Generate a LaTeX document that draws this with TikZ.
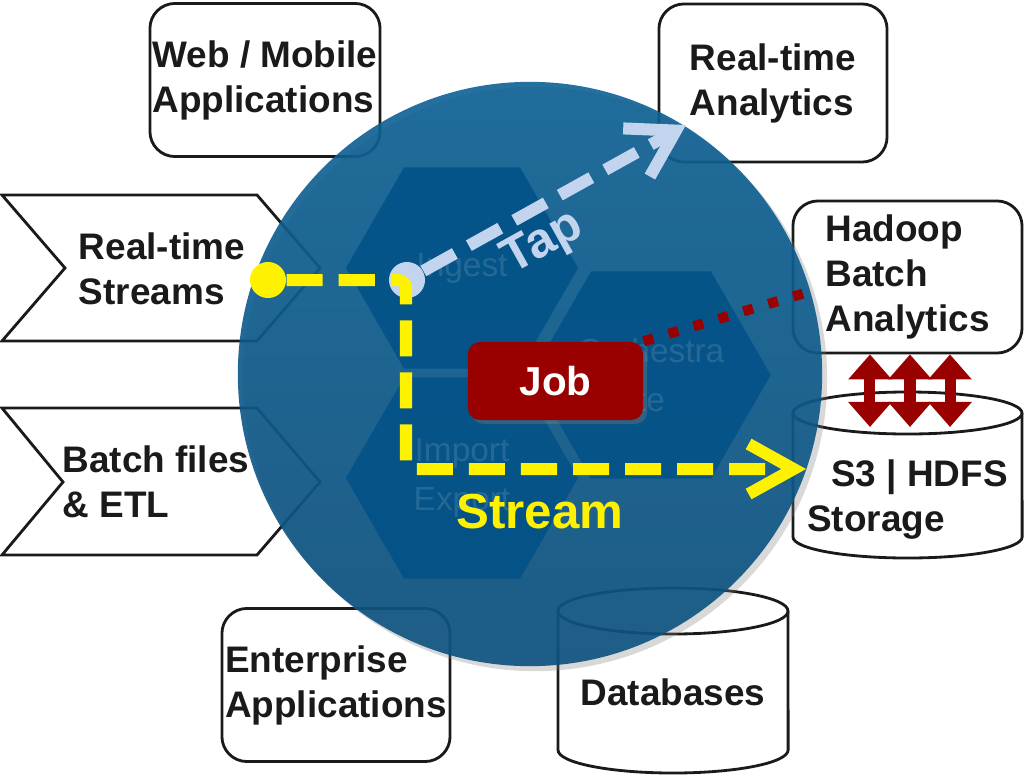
\documentclass[tikz,border=0pt]{standalone}
\usepackage{fontspec}
\setmainfont{Liberation Sans}
\usetikzlibrary{arrows.meta,shapes.geometric,shadows}
\definecolor{xdtop}{RGB}{12,96,148}
\definecolor{xdbottom}{RGB}{10,80,126}
\definecolor{hexblue}{RGB}{0,80,135}
\definecolor{tapblue}{RGB}{195,213,238}
\definecolor{jobred}{RGB}{153,0,0}
\definecolor{inkgray}{RGB}{26,26,26}

\begin{document}
\begin{tikzpicture}[x=0.01cm, y=-0.01cm]
\tikzset{boite/.style={draw=inkgray, line width=0.8pt, fill=white, rounded corners=0.25cm, inner sep=0pt},
  etiquette/.style={font=\fontsize{10.5}{12.8}\selectfont\bfseries, text=inkgray, align=left, inner sep=0pt},
  fond/.style={draw=inkgray, line width=0.8pt, fill=white},
  hexa/.style={regular polygon, regular polygon sides=6, minimum size=2.32cm, inner sep=0pt, fill=hexblue, fill opacity=0.8, text=white, text opacity=0.12, font=\fontsize{9.5}{14}\selectfont, align=center},
  point/.style={circle, minimum size=0.36cm, inner sep=0pt},
  flot/.style={draw=yellow, line width=0.12cm, dash pattern=on 0.36cm off 0.16cm, rounded corners=0.08cm, -{Straight Barb[length=0.45cm, width=0.5cm]}},
  tapline/.style={draw=tapblue, line width=0.12cm, dash pattern=on 0.36cm off 0.16cm, -{Straight Barb[length=0.45cm, width=0.55cm]}},
  pointille/.style={draw=jobred, line width=0.1cm, dash pattern=on 0.1cm off 0.16cm},
  navette/.style={draw=jobred, line width=0.11cm, {Triangle[length=0.25cm, width=0.42cm]}-{Triangle[length=0.25cm, width=0.42cm]}}}
\useasboundingbox (0,0) rectangle (1032,775);

\node[boite, etiquette, minimum width=2.3cm, minimum height=1.53cm] (webapp) at (265,80) {Web / Mobile\\Applications};
\node[boite, etiquette, minimum width=2.28cm, minimum height=1.58cm] (rtanalytics) at (773,83) {Real-time\\Analytics};
\node[boite, etiquette, minimum width=2.29cm, minimum height=1.52cm] (hadoop) at (907.5,277) {Hadoop\\Batch\\Analytics};
\node[boite, etiquette, minimum width=2.28cm, minimum height=1.53cm] (enterprise) at (336,685) {Enterprise\\Applications};

\draw[fond] (2,195) -- (257,195) -- (320,268) -- (257,341) -- (2,341) -- (65,268) -- cycle;
\node[etiquette] (streams) at (162,269) {Real-time\\Streams};
\draw[fond] (2,408) -- (257,408) -- (320,482) -- (257,555) -- (2,555) -- (63,482) -- cycle;
\node[etiquette] (batch) at (156,482) {Batch files\\\& ETL};

\draw[fond] (558,611) -- (558,750) arc[start angle=180, end angle=360, x radius=1.15cm, y radius=0.23cm] -- (788,611) arc[start angle=0, end angle=180, x radius=1.15cm, y radius=0.23cm] -- cycle;
\draw[fond, fill=none] (558,611) arc[start angle=180, end angle=360, x radius=1.15cm, y radius=0.23cm];
\node[etiquette] (databases) at (673,692) {Databases};
\draw[fond] (793,413) -- (793,537) arc[start angle=180, end angle=360, x radius=1.145cm, y radius=0.21cm] -- (1022,413) arc[start angle=0, end angle=180, x radius=1.145cm, y radius=0.21cm] -- cycle;
\draw[fond, fill=none] (793,413) arc[start angle=180, end angle=360, x radius=1.145cm, y radius=0.21cm];
\node[etiquette] (storage) at (907.5,500) {\hspace*{0.24cm}S3 | HDFS\\Storage};

\node[circle, minimum size=5.84cm, inner sep=0pt, top color=xdtop, bottom color=xdbottom, fill opacity=0.9, drop shadow={opacity=0.3, shadow xshift=0.05cm, shadow yshift=-0.05cm}] (xd) at (530,374) {};

\node[hexa] (ingest) at (462,268) {Ingest};
\node[hexa] (orchestra) at (651,375) {Orchestra\\te};
\node[hexa] (importexp) at (462,478) {Import\\Export};

\node[rounded corners=0.12cm, fill=jobred, minimum width=1.75cm, minimum height=0.78cm, text=white, font=\fontsize{11.5}{13}\selectfont\bfseries, drop shadow={opacity=0.35, shadow xshift=0.04cm, shadow yshift=-0.04cm}] (job) at (555.5,381) {Job};
\coordinate (hadoopin) at (815,290);
\draw[pointille] (job.north east) -- (hadoopin);

\node[point, fill=tapblue] (tapdot) at (407,280) {};
\coordinate (tapend) at (686,125);
\draw[tapline] (tapdot) -- (tapend);
\node[rotate=29, text=tapblue, font=\fontsize{14}{16}\selectfont\bfseries] (taplabel) at (543,244) {Tap};

\node[point, fill=yellow] (srcdot) at (268,280) {};
\coordinate (coude) at (406,469);
\coordinate (storein) at (806,469);
\draw[flot] (srcdot) -| (coude) -- (storein);
\node[text=yellow, font=\fontsize{14}{16}\selectfont\bfseries] (streamlabel) at (540,512) {Stream};

\coordinate (storetop) at (907.5,427);
\foreach \dx in {-0.375,0.025,0.425}
  \draw[navette] ([xshift=\dx cm]hadoop.south) -- ([xshift=\dx cm]storetop);
\end{tikzpicture}
\end{document}
